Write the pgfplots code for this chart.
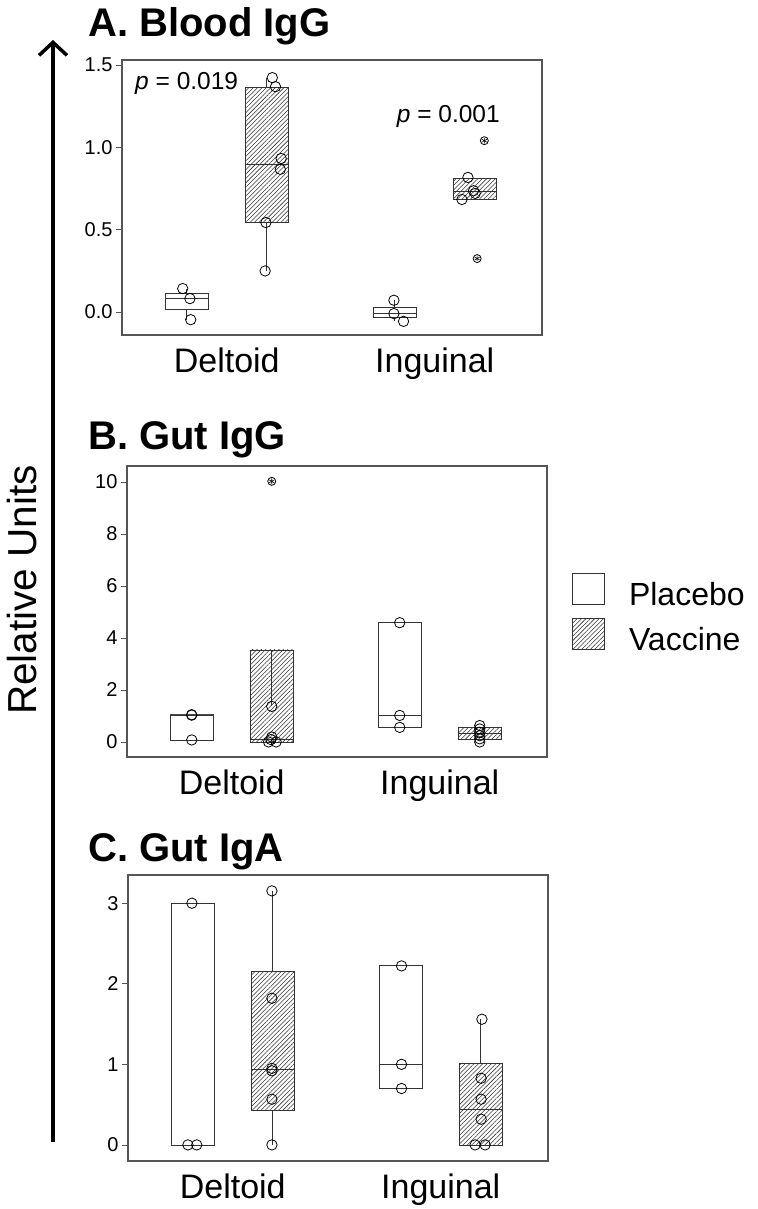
\documentclass[border=0pt]{standalone}
\usepackage{fontspec}
\setmainfont{Liberation Sans}
\usepackage{pgfplots}
\pgfplotsset{compat=1.18}
\usepgfplotslibrary{statistics}
\usetikzlibrary{patterns,patterns.meta,arrows.meta}

\definecolor{boxgray}{HTML}{333333}
\definecolor{framegray}{HTML}{555555}

\tikzset{hatch/.style={pattern={Lines[angle=45, distance=3.1pt, line width=0.55pt]}, pattern color=boxgray}}

\pgfplotsset{
  panel/.style={
    scale only axis, width=420pt,
    xmin=0.191, xmax=5.441,
    boxplot/draw direction=y,
    axis line style={framegray, line width=1.2pt},
    xtick={1.5,4.1}, xticklabels={Deltoid,Inguinal},
    x tick style={draw=none},
    xticklabel style={font=\fontsize{34}{40}\selectfont, yshift=-3pt},
    ytick pos=left, tick align=outside, major tick length=6pt,
    y tick style={framegray, line width=0.8pt},
    yticklabel style={font=\fontsize{20}{24}\selectfont},
    /pgf/number format/assume math mode=true,
    clip=false,
  },
  pl/.style={draw=boxgray, line width=0.8pt, fill=white, solid},
  va/.style={draw=boxgray, line width=0.8pt, hatch, solid},
  pts/.style={only marks, mark=o, mark size=5.2pt, mark options={line width=0.8pt, draw=black, fill=none, solid}},
  outc/.style={only marks, mark=o, mark size=4pt, mark options={line width=0.8pt, draw=black, fill=none, solid}},
  outa/.style={only marks, mark=asterisk, mark size=2.9pt, mark options={line width=0.6pt, draw=black, solid}},
  wline/.style={draw=boxgray, line width=0.8pt, solid, no marks},
}

\begin{document}
\begin{tikzpicture}
\path (0pt,0pt) rectangle (757pt,-1209pt);

% Titles
\node[anchor=base west, inner sep=0pt, font=\fontsize{40}{48}\selectfont\bfseries] at (88pt,-37pt) {A. Blood IgG};
\node[anchor=base west, inner sep=0pt, font=\fontsize{40}{48}\selectfont\bfseries] at (88pt,-449pt) {B. Gut IgG};
\node[anchor=base west, inner sep=0pt, font=\fontsize{40}{48}\selectfont\bfseries] at (88pt,-861pt) {C. Gut IgA};

% Arrow and y label
\draw[line width=3.5pt, -{Straight Barb[length=13pt, width=28pt, line width=3.5pt]}] (53pt,-1142pt) -- (53pt,-40pt);
\node[rotate=90, anchor=base, inner sep=0pt, font=\fontsize{40.5}{46}\selectfont] at (36pt,-590pt) {Relative Units};

% ---------------- Panel A ----------------
\begin{axis}[panel, at={(122pt,-335pt)}, anchor=south west, height=275pt,
  ymin=-0.14, ymax=1.53, ytick={0,0.5,1,1.5},
  yticklabel style={/pgf/number format/.cd, fixed, fixed zerofill, precision=1}]
\addplot[pl, boxplot prepared={draw position=1, lower whisker=-0.047, lower quartile=0.016, median=0.081, upper quartile=0.111, upper whisker=0.142, box extend=0.54, whisker extend=0}] coordinates {};
\addplot[va, boxplot prepared={draw position=2, lower whisker=0.249, lower quartile=0.543, median=0.896, upper quartile=1.364, upper whisker=1.423, box extend=0.54, whisker extend=0}] coordinates {};
\addplot[pl, boxplot prepared={draw position=3.6, lower whisker=-0.057, lower quartile=-0.034, median=-0.010, upper quartile=0.030, upper whisker=0.071, box extend=0.54, whisker extend=0}] coordinates {};
\addplot[va, boxplot prepared={draw position=4.6, lower whisker=0.683, lower quartile=0.683, median=0.730, upper quartile=0.811, upper whisker=0.811, box extend=0.54, whisker extend=0}] coordinates {};
\addplot[pts] coordinates {(0.95,0.142) (1.04,0.081) (1.05,-0.047)};
\addplot[pts] coordinates {(2.07,1.423) (2.11,1.368) (2.18,0.932) (2.17,0.866) (1.99,0.543) (1.98,0.249)};
\addplot[pts] coordinates {(3.59,0.071) (3.59,-0.010) (3.71,-0.057)};
\addplot[pts] coordinates {(4.515,0.817) (4.585,0.736) (4.606,0.720) (4.44,0.683)};
\addplot[outc] coordinates {(4.72,1.040) (4.63,0.324)};
\addplot[outa] coordinates {(4.72,1.040) (4.63,0.324)};
\node[anchor=base west, inner sep=0pt, font=\fontsize{24.5}{28}\selectfont] at (rel axis cs:0.031,0.893) {\textit{p} = 0.019};
\node[anchor=base west, inner sep=0pt, font=\fontsize{24.5}{28}\selectfont] at (rel axis cs:0.654,0.771) {\textit{p} = 0.001};
\end{axis}

% ---------------- Panel B ----------------
\begin{axis}[panel, at={(127pt,-757pt)}, anchor=south west, height=291pt,
  ymin=-0.58, ymax=10.62, ytick={0,2,4,6,8,10},
  legend style={at={(1,0.5)}, anchor=west, xshift=25pt, yshift=-2pt, draw=none, fill=none,
    font=\fontsize{32}{38}\selectfont, row sep=9pt, inner sep=0pt,
    /tikz/every odd column/.append style={column sep=22pt}},
  legend cell align=left]
\addlegendimage{legend image code/.code={\draw[boxgray, line width=0.8pt, fill=white] (0pt,-10pt) rectangle (32pt,21pt);}}
\addlegendentry{Placebo}
\addlegendimage{legend image code/.code={\draw[boxgray, line width=0.8pt, hatch] (0pt,-10pt) rectangle (32pt,21pt);}}
\addlegendentry{Vaccine}
\addplot[pl, boxplot prepared={draw position=1, lower whisker=0.077, lower quartile=0.077, median=1.04, upper quartile=1.049, upper whisker=1.049, box extend=0.54, whisker extend=0}] coordinates {};
\addplot[va, boxplot prepared={draw position=2, lower whisker=0, lower quartile=0, median=0.115, upper quartile=3.54, upper whisker=3.54, box extend=0.54, whisker extend=0}] coordinates {};
\addplot[wline] coordinates {(2,3.54) (2,1.37)};
\addplot[pl, boxplot prepared={draw position=3.6, lower whisker=0.563, lower quartile=0.563, median=1.02, upper quartile=4.59, upper whisker=4.59, box extend=0.54, whisker extend=0}] coordinates {};
\addplot[va, boxplot prepared={draw position=4.6, lower whisker=0.09, lower quartile=0.09, median=0.32, upper quartile=0.563, upper whisker=0.563, box extend=0.54, whisker extend=0}] coordinates {};
\addplot[pts] coordinates {(1,1.049) (1,1.03) (1,0.077)};
\addplot[pts] coordinates {(2,1.37) (2,0.19) (1.96,0) (2.055,0) (1.99,0.09)};
\addplot[pts] coordinates {(3.6,4.59) (3.6,1.02) (3.6,0.56)};
\addplot[pts] coordinates {(4.6,0.63) (4.6,0.5) (4.6,0.37) (4.6,0.24) (4.6,0.12) (4.6,0.0)};
\addplot[outc] coordinates {(2,10.03)};
\addplot[outa] coordinates {(2,10.03)};
\end{axis}

% ---------------- Panel C ----------------
\begin{axis}[panel, at={(128pt,-1161pt)}, anchor=south west, height=286pt,
  ymin=-0.2, ymax=3.35, ytick={0,1,2,3}]
\addplot[pl, boxplot prepared={draw position=1, lower whisker=0, lower quartile=0, median=0, upper quartile=3.0, upper whisker=3.0, box extend=0.54, whisker extend=0}] coordinates {};
\addplot[va, boxplot prepared={draw position=2, lower whisker=0, lower quartile=0.426, median=0.939, upper quartile=2.151, upper whisker=3.153, box extend=0.54, whisker extend=0}] coordinates {};
\addplot[pl, boxplot prepared={draw position=3.6, lower whisker=0.699, lower quartile=0.699, median=1.001, upper quartile=2.222, upper whisker=2.222, box extend=0.54, whisker extend=0}] coordinates {};
\addplot[va, boxplot prepared={draw position=4.6, lower whisker=0, lower quartile=0, median=0.443, upper quartile=1.014, upper whisker=1.56, box extend=0.54, whisker extend=0}] coordinates {};
\addplot[pts] coordinates {(0.99,3.0) (0.94,0) (1.05,0)};
\addplot[pts] coordinates {(1.99,3.153) (1.99,1.82) (1.99,0.95) (1.99,0.92) (1.99,0.567) (1.99,0)};
\addplot[pts] coordinates {(3.61,2.222) (3.61,1.0) (3.61,0.70)};
\addplot[pts] coordinates {(4.615,1.56) (4.605,0.827) (4.605,0.567) (4.605,0.319) (4.53,0) (4.655,0)};
\end{axis}
\end{tikzpicture}
\end{document}
